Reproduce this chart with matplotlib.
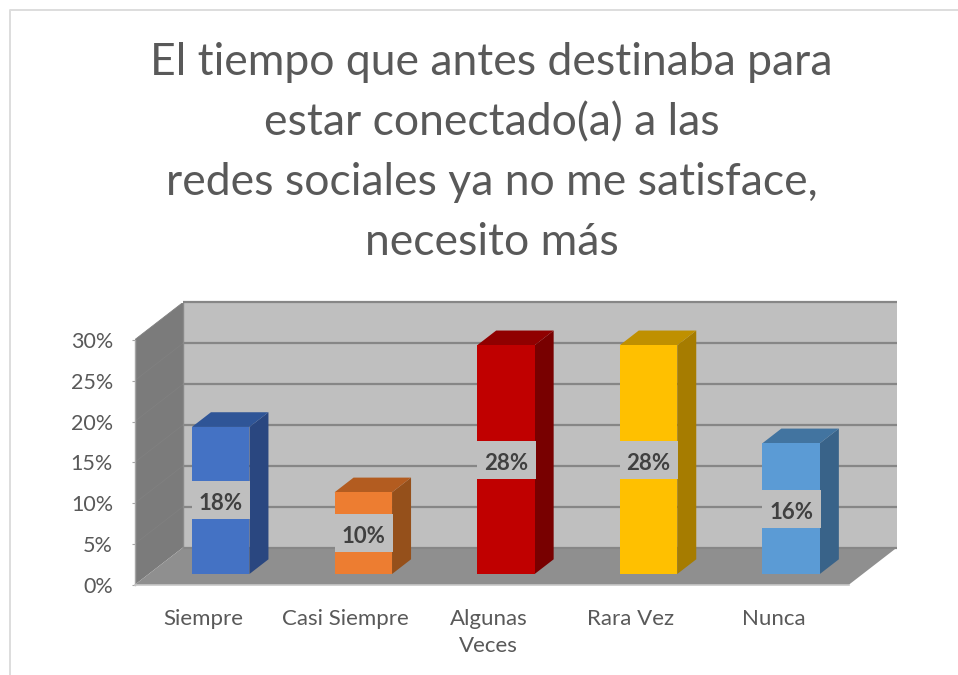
import matplotlib
matplotlib.use("Agg")
import matplotlib.pyplot as plt
from matplotlib.patches import Polygon, Rectangle
from matplotlib.lines import Line2D

title = ("El tiempo que antes destinaba para\nestar conectado(a) a las\n"
         "redes sociales ya no me satisface,\nnecesito más")
categories = ["Siempre", "Casi Siempre", "Algunas\nVeces", "Rara Vez", "Nunca"]
values = [18, 10, 28, 28, 16]
y_ticks = [0, 5, 10, 15, 20, 25, 30]
front_colors = ["#4472C4", "#ED7D31", "#C00000", "#FFC000", "#5B9BD5"]
side_colors = ["#2A4780", "#95501B", "#780000", "#A67C00", "#396389"]
top_colors = ["#2F5597", "#B35C20", "#900000", "#BF9000", "#4274A0"]

W, H = 958, 675
plt.rcParams["font.family"] = ["Lato", "DejaVu Sans"]
fig = plt.figure(figsize=(W / 100, H / 100), dpi=100)
fig.patch.set_facecolor("white")

# chart frame
fig.add_artist(Line2D([9.5 / W, 9.5 / W, 1], [0, 1 - 9.5 / H, 1 - 9.5 / H],
                      color="#DDDDDD", lw=1.4))

PX_X = 142.6   # pixels per category
PX_Y = 8.17    # pixels per percent
L, R, B, T = 134.5, 897.0, 585.0, 303.0
ax = fig.add_axes([L / W, 1 - B / H, (R - L) / W, (B - T) / H])
x0 = 220.7
ax.set_xlim((L - x0) / PX_X, (R - x0) / PX_X)
ax.set_ylim(0, (B - T) / PX_Y)
ax.patch.set_alpha(0)
for s in ax.spines.values():
    s.set_visible(False)

xl, xr = ax.get_xlim()
WALL_DX = 48.5 / PX_X
WALL_DY = 37.5 / PX_Y
BAR_DX = 19.0 / PX_X
BAR_DY = 14.7 / PX_Y
BASE = 11.0 / PX_Y
BAR_W = 57.5 / PX_X
top_val = y_ticks[-1]

# walls and floor
ax.add_patch(Polygon([(xl + WALL_DX, WALL_DY), (xr, WALL_DY),
                      (xr, WALL_DY + top_val), (xl + WALL_DX, WALL_DY + top_val)],
                     fc="#BFBFBF", ec="none", zorder=1))
ax.add_patch(Polygon([(xl, 0), (xl + WALL_DX, WALL_DY),
                      (xl + WALL_DX, WALL_DY + top_val), (xl, top_val)],
                     fc="#7B7B7B", ec="none", zorder=1))
ax.add_patch(Polygon([(xl, 0), (xr - WALL_DX, 0), (xr, WALL_DY), (xl + WALL_DX, WALL_DY)],
                     fc="#8F8F8F", ec="none", zorder=1))

# gridlines
for v in y_ticks:
    ax.plot([xl + WALL_DX, xr], [v + WALL_DY] * 2, color="#868686", lw=1.6,
            zorder=2, solid_capstyle="butt", clip_on=False)
    if v:
        ax.plot([xl, xl + WALL_DX], [v, v + WALL_DY], color="#808080", lw=0.6, zorder=2)
ax.plot([xl + WALL_DX] * 2, [WALL_DY, WALL_DY + top_val], color="#8A8A8A", lw=1.0, zorder=2)
ax.plot([xl, xl], [0, top_val], color="#A6A6A6", lw=1.0, zorder=2, clip_on=False)
ax.plot([xl, xr - WALL_DX], [0, 0], color="#C8C8C8", lw=1.2, zorder=2, clip_on=False)

# bars
xs = list(range(len(categories)))
ax.bar(xs, values, width=BAR_W, bottom=BASE, color=front_colors, zorder=4)
for x, v, sc, tc in zip(xs, values, side_colors, top_colors):
    a, b = x - BAR_W / 2, x + BAR_W / 2
    t = BASE + v
    ax.add_patch(Polygon([(b, BASE), (b + BAR_DX, BASE + BAR_DY),
                          (b + BAR_DX, t + BAR_DY), (b, t)], fc=sc, ec="none", zorder=3))
    ax.add_patch(Polygon([(a, t), (b, t), (b + BAR_DX, t + BAR_DY), (a + BAR_DX, t + BAR_DY)],
                         fc=tc, ec="none", zorder=3))
    mid = BASE + v / 2
    hh = 19.0 / PX_Y
    ax.add_patch(Rectangle((a, mid - hh), BAR_W + 1 / PX_X, 2 * hh, fc="#BFBFBF", ec="none", zorder=5))
    ax.annotate(f"{v}%", (x, mid), xytext=(0, -2.5), textcoords="offset points",
                ha="center", va="center", fontsize=16, fontweight="bold",
                color="#404040", zorder=6)

# axes ticks
ax.set_yticks(y_ticks, [f"{v}%" for v in y_ticks])
ax.tick_params(axis="y", length=2.5, width=0.8, color="#A6A6A6", pad=13,
               labelsize=15.5, labelcolor="#595959")
ax.set_xticks([x - 17.5 / PX_X for x in xs], categories)
ax.tick_params(axis="x", length=0, pad=17.5, labelsize=16, labelcolor="#595959")
for lab in ax.get_xticklabels():
    lab.set_linespacing(1.4)

fig.text(491.5 / W, 1 - 152.5 / H, title, ha="center", va="center", fontsize=32,
         color="#595959", linespacing=1.58)

fig.savefig("out.png", dpi=100)
